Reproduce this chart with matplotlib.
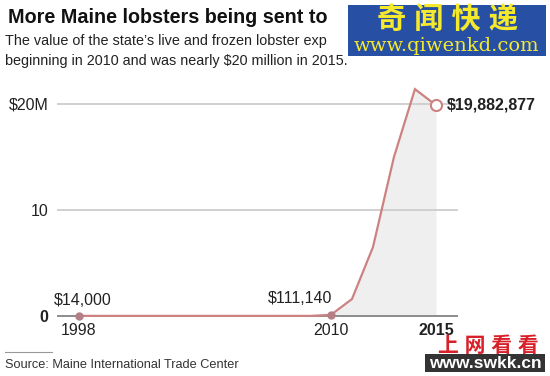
import matplotlib
matplotlib.use("Agg")
import matplotlib.pyplot as plt
import matplotlib.patches as mpatches

plt.rcParams['font.family'] = ['Liberation Sans', 'Noto Sans CJK SC', 'DejaVu Sans']

# lobster export value, millions of dollars
years = list(range(1998, 2016))
values = [0.014, 0.01, 0.01, 0.01, 0.01, 0.01, 0.01, 0.01, 0.01, 0.01, 0.01, 0.01,
          0.11114, 1.6, 6.5, 15.0, 21.4, 19.882877]
ytick_vals = [0, 10, 20]
ytick_labels = ['0', '10', '$20M']
xtick_vals = [1998, 2010, 2015]
xtick_labels = ['1998', '2010', '2015']

W, H = 550, 376
fig = plt.figure(figsize=(W / 100, H / 100), dpi=100)
ax = fig.add_axes([57 / W, 1 - 330 / H, (458 - 57) / W, 250 / H])
ax.set_xlim(1996.95, 2016.05)
ax.set_ylim(-1.32, 22.26)
for s in ax.spines.values():
    s.set_visible(False)

line_c = '#cd8282'
dot_c = '#b47e86'
txt_c = '#222222'

# gridlines
for v in ytick_vals[1:]:
    ax.axhline(v, color='#d0d0d0', lw=1.4, zorder=1)
ax.axhline(0, color='#8c8c8c', lw=1.4, zorder=2)

# shaded area under the recent growth
i10 = years.index(2010)
ax.fill_between(years[i10:], values[i10:], 0, color='#efefef', lw=0, zorder=0)

ax.plot(years, values, color=line_c, lw=1.6, zorder=3, solid_joinstyle='miter')
ax.plot([1998, 2010], [values[0], values[i10]], 'o', color=dot_c, ms=5, zorder=4)
ax.plot([2015], [values[-1]], 'o', mfc='white', mec=line_c, mew=1.5, ms=8, zorder=4)

ax.set_yticks(ytick_vals, ytick_labels, fontsize=11.5, color=txt_c)
ax.get_yticklabels()[0].set_fontweight('bold')
ax.set_xticks(xtick_vals, xtick_labels, fontsize=11.5, color=txt_c)
ax.get_xticklabels()[-1].set_fontweight('bold')
ax.tick_params(length=0)
ax.tick_params(axis='y', pad=6)
ax.tick_params(axis='x', pad=-5)

ax.annotate('$14,000', (1998, values[0]), xytext=(3, 6), textcoords='offset points',
            ha='center', va='bottom', fontsize=11.5, color=txt_c)
ax.annotate('$111,140', (2010, values[i10]), xytext=(1, 6), textcoords='offset points',
            ha='right', va='bottom', fontsize=11.5, color=txt_c)
ax.annotate('$19,882,877', (2015, values[-1]), xytext=(8, 0), textcoords='offset points',
            ha='left', va='center', fontsize=11.5, fontweight='bold', color=txt_c)

# title block
fig.text(8 / W, 1 - 23 / H, 'More Maine lobsters being sent to', fontsize=14.2,
         fontweight='bold', color='#111111', va='baseline')
fig.text(5 / W, 1 - 45 / H, 'The value of the state\u2019s live and frozen lobster exp',
         fontsize=10.4, color=txt_c, va='baseline')
fig.text(5 / W, 1 - 65 / H, 'beginning in 2010 and was nearly $20 million in 2015.',
         fontsize=10.4, color=txt_c, va='baseline')

# source
fig.add_artist(plt.Line2D([5 / W, 52 / W], [1 - 352 / H, 1 - 352 / H],
                          color='#999999', lw=0.8))
fig.text(5 / W, 1 - 368 / H, 'Source: Maine International Trade Center', fontsize=9.2,
         color='#333333', va='baseline')

# watermarks
fig.add_artist(mpatches.Rectangle((348 / W, 1 - 56 / H), 198 / W, 51 / H,
                                  transform=fig.transFigure, color='#2750a5', lw=0))
fig.text(447 / W, 1 - 21 / H, '奇 闻 快 递', fontsize=21, fontweight='bold', color='#f5e92d',
         ha='center', va='center')
fig.text(447 / W, 1 - 46 / H, 'www.qiwenkd.com', fontsize=14, color='#f5e92d',
         ha='center', va='center', family='DejaVu Serif')
fig.text(488 / W, 1 - 346 / H, '上 网 看 看', fontsize=15, fontweight='bold', color='#d8202a',
         ha='center', va='center')
fig.add_artist(mpatches.Rectangle((425 / W, 1 - 372 / H), 120 / W, 18 / H,
                                  transform=fig.transFigure, color='#333333', lw=0))
fig.text(485 / W, 1 - 363 / H, 'www.swkk.cn', fontsize=12.5, fontweight='bold', color='white',
         ha='center', va='center')

fig.savefig('out.png', dpi=100)
